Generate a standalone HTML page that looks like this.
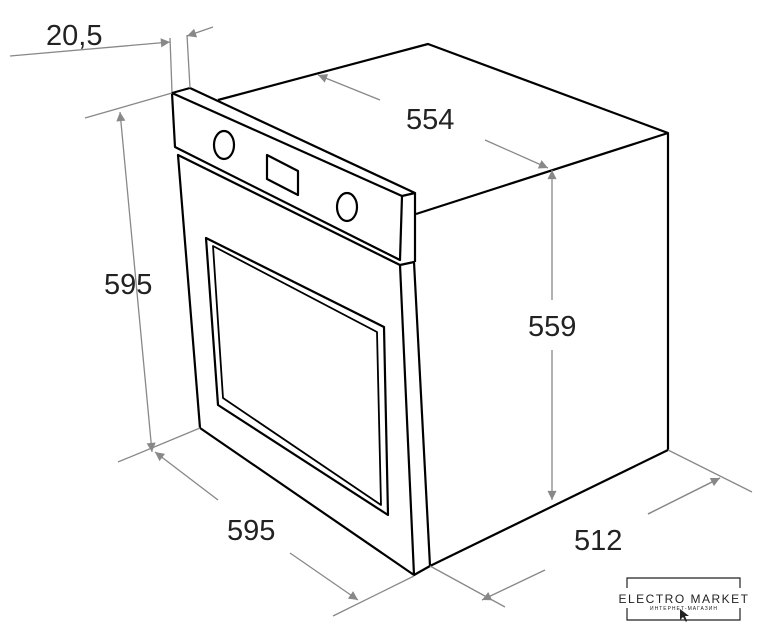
<!DOCTYPE html>
<html><head><style>body{margin:0;background:#fff}svg{display:block}text{font-family:"Liberation Sans",sans-serif;font-size:29px;fill:#222}</style></head><body>
<svg width="774" height="640" viewBox="0 0 774 640" xmlns="http://www.w3.org/2000/svg">
<defs><marker id="a" viewBox="0 0 10 10" refX="10" refY="5" markerWidth="9" markerHeight="7" orient="auto-start-reverse"><path d="M0,0L10,5L0,10z" fill="#888"/></marker></defs>
<g stroke="#000" stroke-width="2.2" fill="none" stroke-linejoin="round">
<!-- body -->
<polyline points="218,100 428,44 668,133 668,450 430,566"/>
<line x1="668" y1="133" x2="416" y2="214"/>
<!-- panel -->
<polygon points="172,93 190,88 415,193 402,196"/>
<polyline points="172,93 175,147 400,260 402,196"/>
<line x1="415" y1="193" x2="415" y2="262"/>
<ellipse cx="224" cy="145" rx="10" ry="14"/>
<ellipse cx="347" cy="207" rx="10" ry="14"/>
<polygon points="267,155 298,171 298,195 267,179"/>
<!-- door -->
<polygon points="178,155 400,265 414,575 200,428"/>
<polyline points="400,265 414,262 430,566 414,575"/>
<polygon points="206,238 384,327 388,515 218,405"/>
<polygon points="213,246 377,332 381,505 223,398" stroke-width="1.8"/>
</g>
<g stroke="#888" stroke-width="1.3" fill="none">
<!-- 20,5 -->
<line x1="170" y1="38" x2="172" y2="92"/><line x1="187" y1="35" x2="190" y2="88"/>
<line x1="10" y1="56" x2="170" y2="42" marker-end="url(#a)"/>
<line x1="213" y1="27" x2="187" y2="36" marker-end="url(#a)"/>
<!-- 595 left -->
<line x1="85" y1="118" x2="172" y2="93"/><line x1="118" y1="462" x2="200" y2="428"/>
<line x1="120" y1="112" x2="152" y2="452" marker-start="url(#a)" marker-end="url(#a)"/>
<!-- 595 bottom -->
<line x1="155" y1="452" x2="218" y2="500" marker-start="url(#a)"/>
<line x1="290" y1="553" x2="358" y2="600" marker-end="url(#a)"/>
<line x1="333" y1="616" x2="414" y2="576"/>
<!-- 554 -->
<line x1="380" y1="100" x2="318" y2="75" marker-end="url(#a)"/>
<line x1="485" y1="140" x2="548" y2="168" marker-end="url(#a)"/>
<!-- 559 -->
<line x1="552" y1="300" x2="552" y2="170" marker-end="url(#a)"/>
<line x1="552" y1="350" x2="552" y2="500" marker-end="url(#a)"/>
<!-- 512 -->
<line x1="668" y1="450" x2="752" y2="492"/><line x1="430" y1="566" x2="505" y2="607"/>
<line x1="720" y1="478" x2="648" y2="514"/>
<line x1="545" y1="570" x2="482" y2="600" marker-end="url(#a)"/>
<line x1="648" y1="514" x2="720" y2="478" marker-end="url(#a)"/>
</g>
<text x="46" y="45">20,5</text>
<text x="104" y="294">595</text>
<text x="227" y="540">595</text>
<text x="406" y="129">554</text>
<text x="528" y="336">559</text>
<text x="574" y="550">512</text>
<g stroke="#222" stroke-width="1.2" fill="none"><polyline points="627,588 627,578 740,578 740,588"/><polyline points="627,608 627,620 740,620 740,608"/></g>
<text x="684" y="603" text-anchor="middle" style="font-size:12px;letter-spacing:1.5px">ELECTRO MARKET</text>
<text x="684" y="610" text-anchor="middle" style="font-size:5px;letter-spacing:1px">ИНТЕРНЕТ-МАГАЗИН</text>
<path d="M680,609L680,620L683,617L686,622L687,621L685,616L689,616Z" fill="#222"/>
</svg>
</body></html>
